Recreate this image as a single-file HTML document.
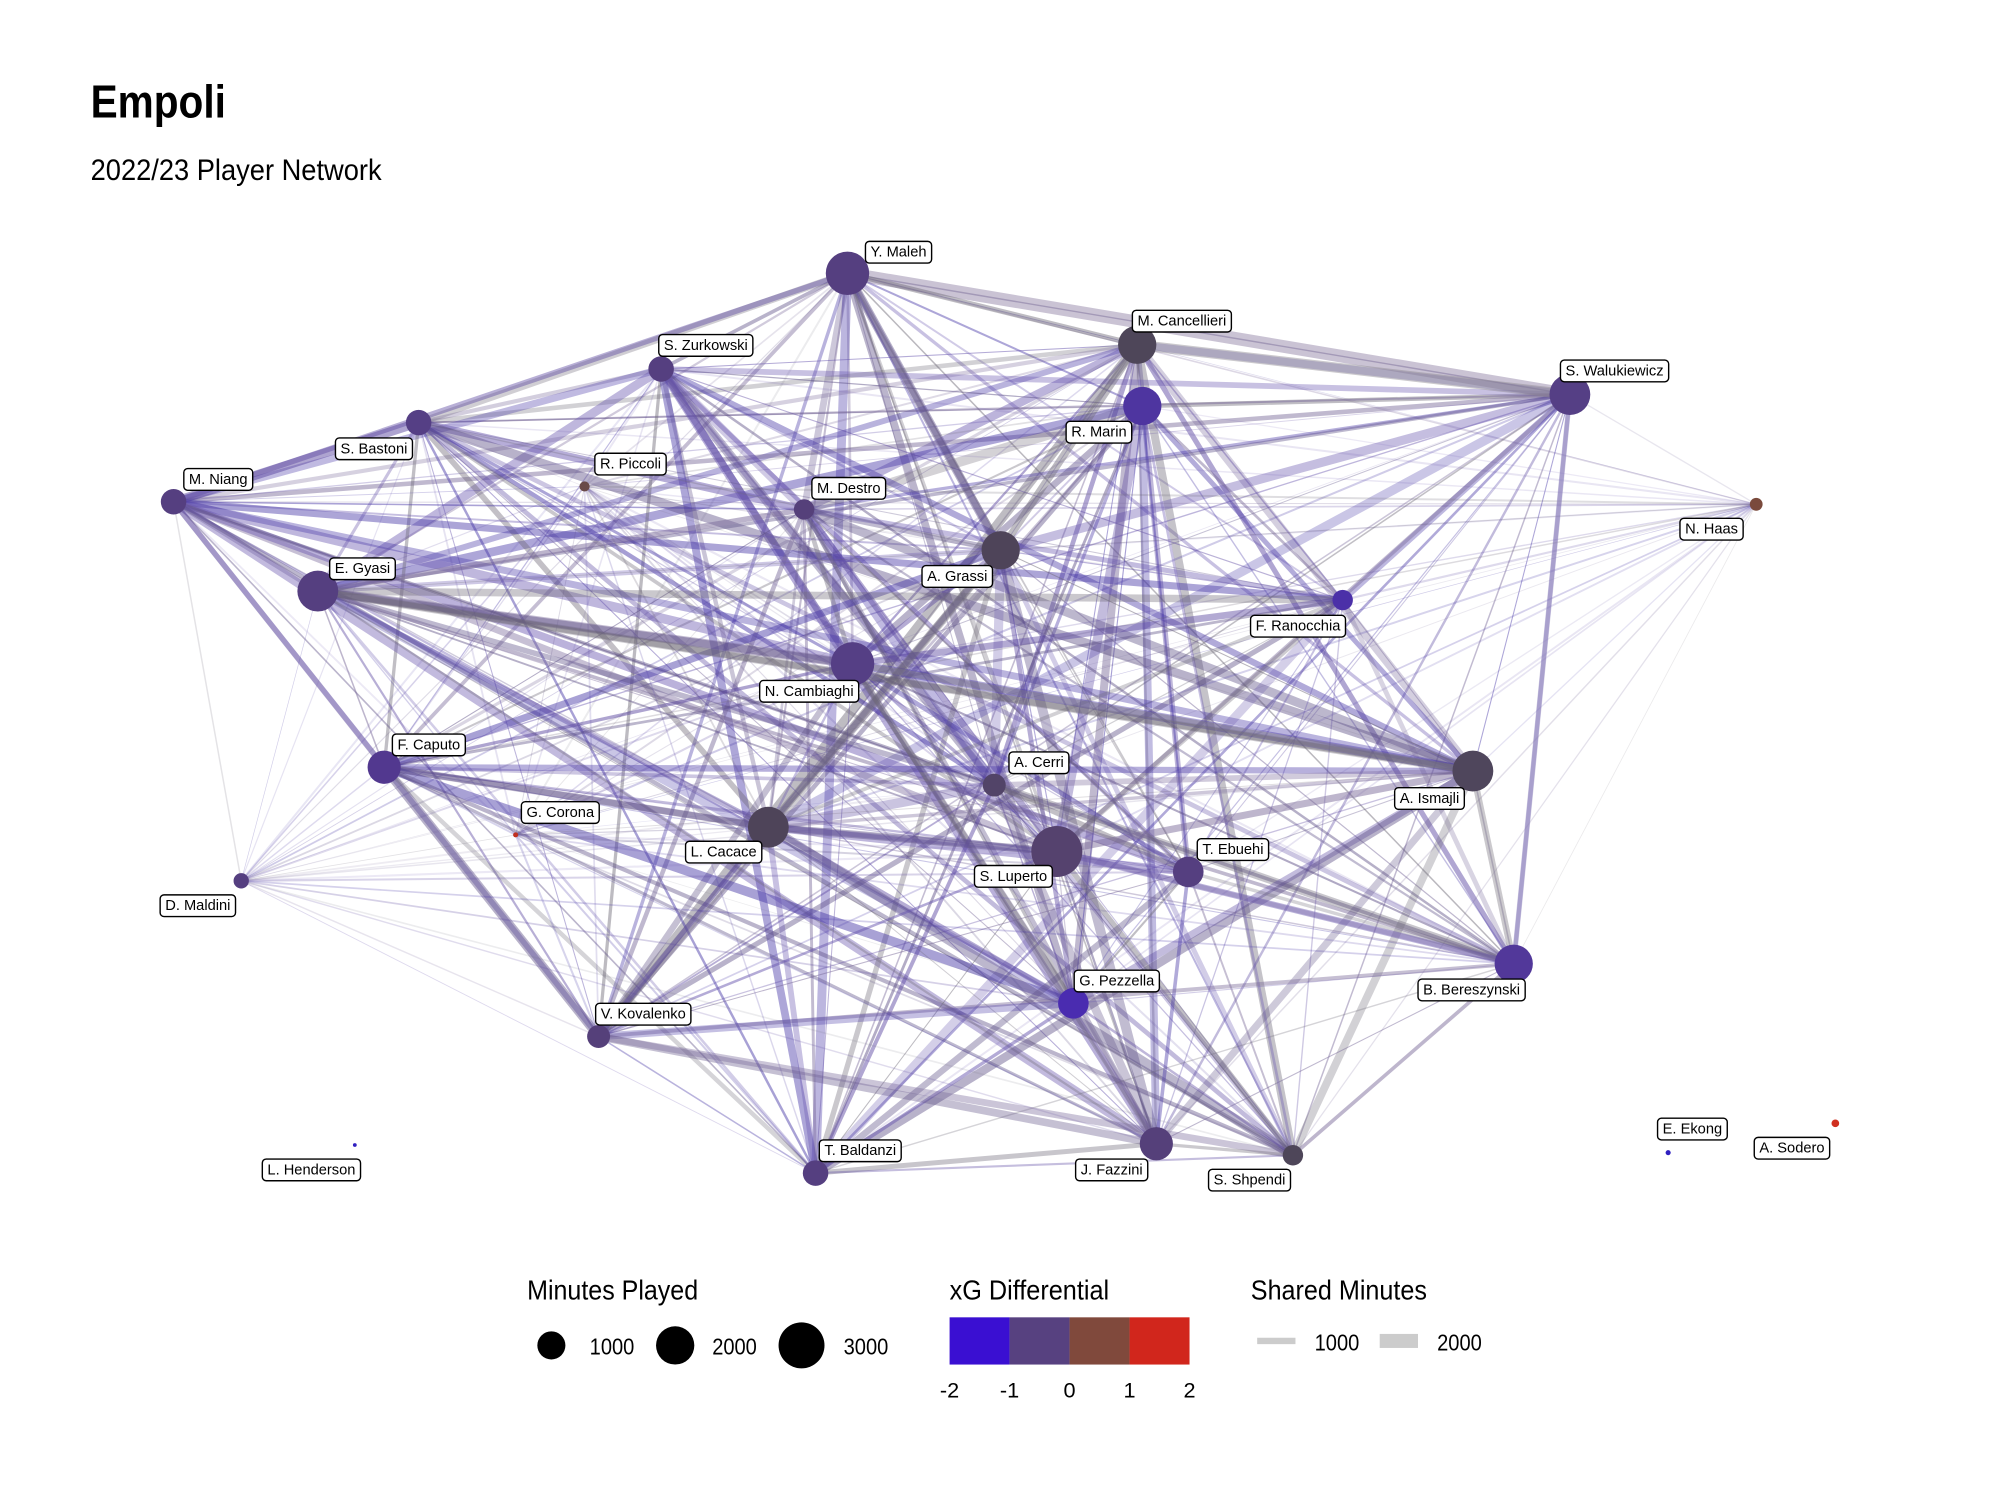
<!DOCTYPE html>
<html><head><meta charset="utf-8">
<style>
html,body{margin:0;padding:0;background:#fff;}
svg{display:block;}
text{font-family:"Liberation Sans Narrow","Liberation Sans",sans-serif;}
.lb rect{fill:#fff;stroke:#000;stroke-width:1.1;}
.lb text{font-size:11.5px;fill:#000;}
</style></head>
<body>
<svg id="s" width="2000" height="1500" viewBox="0 0 1567 1175" xmlns="http://www.w3.org/2000/svg">
<rect width="1567" height="1175" fill="#fff"/>
<text x="71" y="92" font-size="36" font-weight="bold" fill="#000" textLength="106" lengthAdjust="spacingAndGlyphs">Empoli</text>
<text x="71" y="141" font-size="23" fill="#000" textLength="228" lengthAdjust="spacingAndGlyphs">2022/23 Player Network</text>
<g id="edges"></g>
<g id="nodes"></g>
<g id="labels"></g>
<!-- legend -->
<text x="413" y="1018" font-size="22" textLength="134" lengthAdjust="spacingAndGlyphs">Minutes Played</text>
<circle cx="432" cy="1054" r="11" fill="#000"/><text x="462" y="1061" font-size="18" textLength="35" lengthAdjust="spacingAndGlyphs">1000</text>
<circle cx="529" cy="1054" r="15" fill="#000"/><text x="558" y="1061" font-size="18" textLength="35" lengthAdjust="spacingAndGlyphs">2000</text>
<circle cx="628" cy="1054" r="18" fill="#000"/><text x="661" y="1061" font-size="18" textLength="35" lengthAdjust="spacingAndGlyphs">3000</text>
<text x="744" y="1018" font-size="22" textLength="125" lengthAdjust="spacingAndGlyphs">xG Differential</text>
<rect x="744" y="1032" width="47" height="37" fill="#3a0fd2"/>
<rect x="791" y="1032" width="47" height="37" fill="#574180"/>
<rect x="838" y="1032" width="47" height="37" fill="#80493c"/>
<rect x="885" y="1032" width="47" height="37" fill="#d1261c"/>
<g font-size="17" text-anchor="middle"><text x="744" y="1095">-2</text><text x="791" y="1095">-1</text><text x="838" y="1095">0</text><text x="885" y="1095">1</text><text x="932" y="1095">2</text></g>
<text x="980" y="1018" font-size="22" textLength="138" lengthAdjust="spacingAndGlyphs">Shared Minutes</text>
<rect x="985" y="1048" width="30" height="5" fill="#cccccc"/><text x="1030" y="1058" font-size="18" textLength="35" lengthAdjust="spacingAndGlyphs">1000</text>
<rect x="1081" y="1045" width="30" height="11" fill="#cccccc"/><text x="1126" y="1058" font-size="18" textLength="35" lengthAdjust="spacingAndGlyphs">2000</text>
</svg>
<script>
var N=[
["Y. Maleh",664,214,17,"#553f80",704,197,1],
["M. Cancellieri",891,270,15,"#4e4659",926,251,1],
["S. Walukiewicz",1230,309,16,"#553f85",1265,290,1],
["R. Marin",895,318,15,"#4e35a0",861,338,1],
["S. Zurkowski",518,289,10,"#553f80",553,270,1],
["S. Bastoni",328,331,10,"#553f85",293,351,1],
["M. Niang",136,393,10,"#553f80",171,375,1],
["R. Piccoli",458,381,4,"#6a4a48",494,363,0],
["M. Destro",630,399,8,"#55407a",665,382,1],
["A. Grassi",784,431,15,"#4e4459",750,451,1],
["N. Haas",1376,395,5,"#7a4a3c",1341,414,0],
["E. Gyasi",249,463,16,"#553f80",284,445,1],
["F. Ranocchia",1052,470,8,"#4b30a8",1017,490,1],
["N. Cambiaghi",668,520,17,"#553f85",634,541,1],
["F. Caputo",301,601,13,"#52388f",336,583,1],
["A. Cerri",779,615,9,"#524468",814,597,1],
["A. Ismajli",1154,604,16,"#4f465c",1120,625,1],
["G. Corona",404,654,2,"#c03020",439,636,0],
["L. Cacace",602,648,16,"#4e4459",567,667,1],
["S. Luperto",828,667,20,"#55426e",794,686,1],
["T. Ebuehi",931,683,12,"#553f80",966,665,1],
["D. Maldini",189,690,6,"#553f80",155,709,0],
["B. Bereszynski",1186,755,15,"#52389a",1153,775,1],
["G. Pezzella",841,786,12,"#4a2cb0",875,768,1],
["V. Kovalenko",469,812,9,"#55407a",504,794,1],
["T. Baldanzi",639,919,10,"#553f80",674,901,1],
["J. Fazzini",906,896,13,"#55407a",871,916,1],
["S. Shpendi",1013,905,8,"#4e4659",979,924,1],
["L. Henderson",278,897,1.5,"#3020c0",244,916,2],
["E. Ekong",1307,903,2,"#3020c0",1326,884,2],
["A. Sodero",1438,880,3,"#d03020",1404,899,2]
];
var ns="http://www.w3.org/2000/svg";
function el(t,a,p){var e=document.createElementNS(ns,t);for(var k in a)e.setAttribute(k,a[k]);p.appendChild(e);return e;}
var E=document.getElementById("edges"),ND=document.getElementById("nodes"),L=document.getElementById("labels");
var seed=7;function rnd(){seed=(seed*16807)%2147483647;return seed/2147483647;}
var cols=["#5a46a0","#6a58b0","#6f6a78","#5d4f86","#4a3aa8","#7a6a9a"];
for(var i=0;i<N.length;i++)for(var j=i+1;j<N.length;j++){
 var a=N[i],b=N[j];if(a[7]==2||b[7]==2)continue;
 var r=rnd();var w,op;
 if(a[7]==1&&b[7]==1){w=0.8+r*r*7;op=0.28+rnd()*0.22;}
 else{w=0.5+r*1.2;op=0.12+rnd()*0.15;}
 var c=cols[Math.floor(rnd()*cols.length)];
 el("line",{x1:a[1],y1:a[2],x2:b[1],y2:b[2],stroke:c,"stroke-width":w.toFixed(2),"stroke-opacity":op.toFixed(2)},E);
}
var heavy=[[0,2,10,"#8a7aa0"],[1,2,8,"#8c8790"],[11,13,6,"#5d4f86"],[11,16,5,"#6a6670"],[9,18,6,"#6f6a78"],[1,9,6,"#6f6a78"],[16,22,5,"#8c8790"],[2,22,4,"#9a90c0"],[14,18,5,"#5d4f86"],[0,9,5,"#5d4f86"],[18,19,6,"#5d4f86"],[19,22,5,"#6a58b0"],[13,16,5,"#7a7580"],[0,1,4,"#6f6a78"]];
heavy.forEach(function(h){var a=N[h[0]],b=N[h[1]];el("line",{x1:a[1],y1:a[2],x2:b[1],y2:b[2],stroke:h[3],"stroke-width":h[2],"stroke-opacity":0.45},E);});
N.forEach(function(n){
 el("circle",{cx:n[1],cy:n[2],r:n[3],fill:n[4]},ND);
 var g=el("g",{"class":"lb"},L);
 var t=el("text",{x:n[5],y:n[6]+4,"text-anchor":"middle"},g);t.textContent=n[0];
 var w=t.getComputedTextLength()+8;
 var r=el("rect",{x:n[5]-w/2,y:n[6]-8,width:w,height:17,rx:3},g);
 g.insertBefore(r,t);
});
</script>
</body></html>
